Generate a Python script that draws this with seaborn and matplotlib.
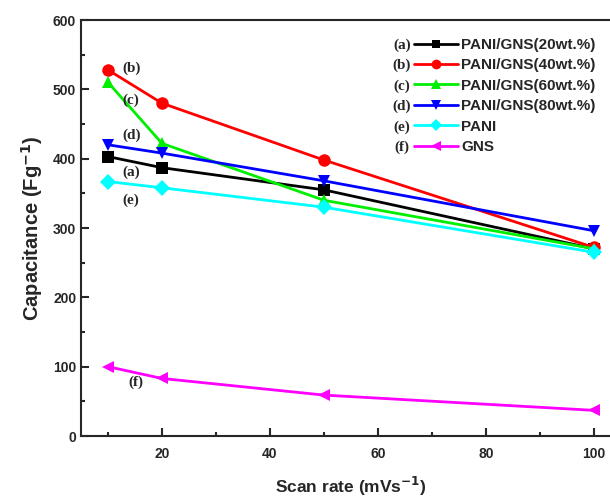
import matplotlib
matplotlib.use("Agg")
import matplotlib.pyplot as plt
import seaborn as sns
import pandas as pd
from matplotlib.lines import Line2D
from matplotlib.ticker import MultipleLocator

sns.set_style("ticks")
plt.rcParams['font.family'] = ['Liberation Sans', 'DejaVu Sans']

scan_rate = [10, 20, 50, 100]
series_names = ["PANI/GNS(20wt.%)", "PANI/GNS(40wt.%)", "PANI/GNS(60wt.%)",
                "PANI/GNS(80wt.%)", "PANI", "GNS"]
letters = ["(a)", "(b)", "(c)", "(d)", "(e)", "(f)"]
cap_a = [403, 387, 355, 270]
cap_b = [528, 480, 398, 272]
cap_c = [510, 422, 340, 270]
cap_d = [420, 408, 368, 296]
cap_e = [367, 358, 330, 265]
cap_f = [100, 83, 59, 37]
values = [cap_a, cap_b, cap_c, cap_d, cap_e, cap_f]

colors = ["#000000", "#ff0000", "#00ee00", "#0000ff", "#00ffff", "#ff00ff"]
markers = ["s", "o", "^", "v", "D", "<"]
msizes = [8, 9, 9, 9, 8, 9]

rows = []
for name, vals in zip(series_names, values):
    for x, y in zip(scan_rate, vals):
        rows.append({"series": name, "scan": x, "cap": y})
df = pd.DataFrame(rows)

fig = plt.figure(figsize=(6.1, 5.01), dpi=100)
ax = fig.add_axes([81/610, 65/501, 540/610, 416/501])

for name, c, m, ms in zip(series_names, colors, markers, msizes):
    sub = df[df.series == name]
    sns.lineplot(data=sub, x="scan", y="cap", ax=ax, color=c, marker=m,
                 markersize=ms, markeredgewidth=0, linewidth=2, legend=False)

ax.set_xlim(5, 105)
ax.set_ylim(0, 600)
ax.xaxis.set_major_locator(MultipleLocator(20))
ax.xaxis.set_minor_locator(MultipleLocator(10))
ax.yaxis.set_major_locator(MultipleLocator(100))
ax.yaxis.set_minor_locator(MultipleLocator(50))
ax.set_xticks([20, 40, 60, 80, 100])
ax.tick_params(which='both', direction='in', width=1.5)
ax.tick_params(which='major', length=6, labelsize=10)
ax.tick_params(which='minor', length=3)
for lab in ax.get_xticklabels() + ax.get_yticklabels():
    lab.set_fontweight('bold')
for sp in ax.spines.values():
    sp.set_linewidth(1.5)
ax.tick_params(axis='x', pad=8)

ax.set_xlabel("Scan rate (mVs$^{\\mathbf{-1}}$)", fontsize=12.5, fontweight='bold', labelpad=10)
ax.set_ylabel("Capacitance (Fg$^{\\mathbf{-1}}$)", fontsize=14.5, fontweight='bold', labelpad=6)

# annotations on curves
ann_pos = {"(b)": (14.3, 530), "(c)": (14.3, 484), "(d)": (14.3, 434),
           "(a)": (14.3, 381), "(e)": (14.3, 340), "(f)": (15.2, 77)}
for lt, (x, y) in ann_pos.items():
    ax.text(x, y, lt, family='Liberation Serif', fontweight='bold', fontsize=11,
            ha='center', va='center')

# legend
handles = [Line2D([], [], color=c, marker=m, markersize=ms - 2, markeredgewidth=0, linewidth=2)
           for c, m, ms in zip(colors, markers, msizes)]
leg = fig.legend(handles, series_names, loc='upper left',
                 bbox_to_anchor=(414/610, 1 - 38/501), frameon=False,
                 handlelength=2.9, handletextpad=0.2, labelspacing=0.42,
                 borderaxespad=0, borderpad=0,
                 prop={'weight': 'bold', 'size': 11, 'family': 'Liberation Sans'})
row_y = [45, 65.5, 86, 106.5, 127, 147.5]
for lt, py in zip(letters, row_y):
    fig.text(402/610, 1 - py/501, lt, family='Liberation Serif', fontweight='bold',
             fontsize=11, ha='center', va='center')

fig.savefig("out.png", dpi=100)
